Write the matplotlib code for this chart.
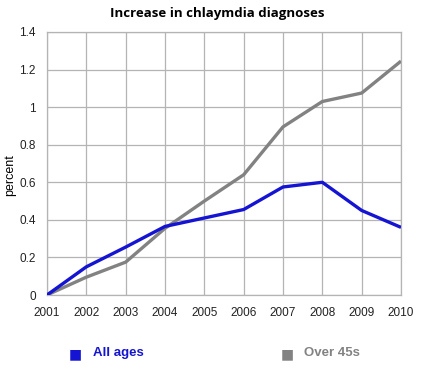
import matplotlib
matplotlib.use("Agg")
import matplotlib.pyplot as plt

years = [2001, 2002, 2003, 2004, 2005, 2006, 2007, 2008, 2009, 2010]
all_ages = [0.0, 0.15, 0.255, 0.365, 0.41, 0.455, 0.575, 0.60, 0.45, 0.36]
over_45s = [0.0, 0.095, 0.175, 0.355, 0.50, 0.64, 0.895, 1.03, 1.075, 1.245]
series_names = ["All ages", "Over 45s"]
yticks = [0, 0.2, 0.4, 0.6, 0.8, 1, 1.2, 1.4]
ytick_labels = ["0", "0.2", "0.4", "0.6", "0.8", "1", "1.2", "1.4"]

blue = "#1414d2"
gray = "#828282"

W, H = 421, 370
fig = plt.figure(figsize=(W / 100, H / 100), dpi=100)
ax = fig.add_axes([47 / W, 1 - 295 / H, (401 - 47) / W, (295 - 32) / H])

ax.plot(years, over_45s, color=gray, lw=2.4, solid_capstyle="butt", zorder=3)
ax.plot(years, all_ages, color=blue, lw=2.4, solid_capstyle="butt", zorder=4)

ax.set_xlim(years[0], years[-1])
ax.set_ylim(0, 1.4)
ax.set_xticks(years)
ax.set_xticklabels([str(y) for y in years])
ax.set_yticks(yticks)
ax.set_yticklabels(ytick_labels)
ax.grid(True, color="#b4b4b4", lw=0.9)
ax.set_axisbelow(True)
for s in ax.spines.values():
    s.set_color("#b4b4b4")
    s.set_linewidth(0.9)
ax.tick_params(length=0, labelsize=8.5, labelcolor="#222222")
ax.tick_params(axis="x", pad=9)
ax.tick_params(axis="y", pad=8)
for lbl in ax.get_xticklabels() + ax.get_yticklabels():
    lbl.set_family("Liberation Sans")

ax.set_ylabel("percent", fontsize=9, family="Liberation Sans")
ax.yaxis.set_label_coords((16 - 47) / 354, 0.455)

fig.text(0.515, 1 - 14 / H, "Increase in chlaymdia diagnoses", ha="center", va="center",
         fontsize=9.5, fontweight="bold", family="Open Sans")

# legend
fig.text(75 / W, 1 - 354 / H, "\u25A0", color=blue, fontsize=10, va="center", ha="center",
         family="DejaVu Sans")
fig.text(93 / W, 1 - 353 / H, series_names[0], color=blue, fontsize=9.5, fontweight="bold",
         va="center", ha="left", family="Liberation Sans")
fig.text(287 / W, 1 - 354 / H, "\u25A0", color=gray, fontsize=10, va="center", ha="center",
         family="DejaVu Sans")
fig.text(304 / W, 1 - 353 / H, series_names[1], color=gray, fontsize=9.5, fontweight="bold",
         va="center", ha="left", family="Liberation Sans")

fig.savefig("out.png", dpi=100)
